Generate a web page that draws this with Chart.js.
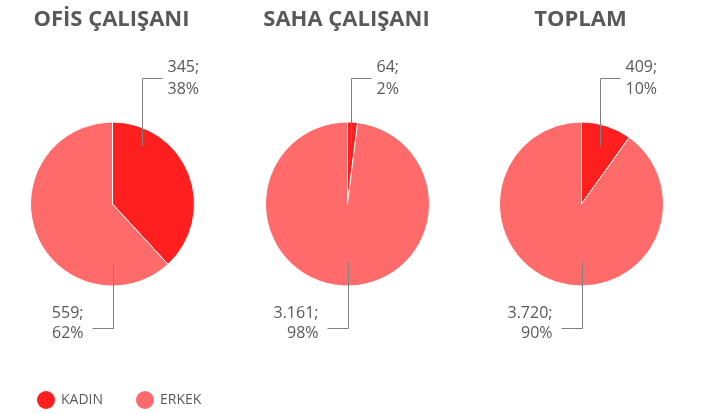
<!DOCTYPE html>
<html>
<head>
<meta charset="utf-8">
<script src="https://cdn.jsdelivr.net/npm/chart.js@4/dist/chart.umd.min.js"></script>
<style>
    html, body { margin: 0; padding: 0; background: #fff; }
    body { width: 707px; height: 414px; position: relative; overflow: hidden; }
    canvas { position: absolute; top: 0; }
</style>
</head>
<body>
<canvas id="c0" width="235" height="414" style="left:0px"></canvas>
<canvas id="c1" width="235" height="414" style="left:235px"></canvas>
<canvas id="c2" width="235" height="414" style="left:469px"></canvas>
<script>
const groups = ['OFİS ÇALIŞANI', 'SAHA ÇALIŞANI', 'TOPLAM'];
const categories = ['KADIN', 'ERKEK'];
const kadin = [345, 64, 409];
const erkek = [559, 3161, 3720];
const colors = ['#ff1f1f', '#ff6b6b'];

const textColor = '#595959';
const lineColor = '#808080';

function fmt(v) {
    return String(v).replace(/\B(?=(\d{3})+(?!\d))/g, '.');
}

// titles, callout labels and (on the first chart) the legend
const decor = {
    id: 'decor',
    afterDraw(chart, args, opts) {
        const ctx = chart.ctx;
        const meta = chart.getDatasetMeta(0);
        const data = chart.data.datasets[0].data;
        const total = data.reduce((a, b) => a + b, 0);
        const a0 = meta.data[0];
        const cx = a0.x, cy = a0.y, r = a0.outerRadius;

        ctx.save();
        // title
        ctx.fillStyle = textColor;
        ctx.font = 'bold 22px "Open Sans"';
        ctx.textAlign = 'center';
        ctx.textBaseline = 'middle';
        ctx.fillText(opts.title, cx - 1, 20);

        ctx.strokeStyle = lineColor;
        ctx.lineWidth = 1;
        ctx.font = '16px "Open Sans"';

        // first slice: label above, to the right
        const mid = (a0.startAngle + a0.endAngle) / 2 + Math.PI / 2;
        const lx = Math.round(cx + r * 0.72 * Math.sin(Math.min(mid, 0.53))) + 0.5;
        const ty = Math.round(cy - r * 1.54) + 0.5;
        ctx.beginPath();
        ctx.moveTo(lx, cy - r * 0.71);
        ctx.lineTo(lx, ty);
        ctx.lineTo(lx + 20, ty);
        ctx.stroke();
        ctx.textAlign = 'left';
        ctx.fillText(fmt(data[0]) + ';', lx + 25, ty - 11);
        ctx.fillText(Math.round(data[0] / total * 100) + '%', lx + 25, ty + 11);

        // second slice: label below, to the left
        const bx = Math.round(cx) + 0.5;
        const by = Math.round(cy + r * 1.51) + 0.5;
        ctx.beginPath();
        ctx.moveTo(bx, cy + r * 0.71);
        ctx.lineTo(bx, by);
        ctx.lineTo(bx - 21, by);
        ctx.stroke();
        ctx.textAlign = 'right';
        ctx.fillText(fmt(data[1]) + ';', bx - 30, by - 15);
        ctx.fillText(Math.round(data[1] / total * 100) + '%', bx - 30, by + 5);

        if (opts.legend) {
            ctx.font = '14px "Open Sans"';
            ctx.textAlign = 'left';
            chart.data.labels.forEach((lab, i) => {
                const x = 46 + i * 99;
                ctx.fillStyle = colors[i];
                ctx.beginPath();
                ctx.arc(x, 400, 9, 0, Math.PI * 2);
                ctx.fill();
                ctx.fillStyle = textColor;
                ctx.fillText(lab, x + 15, 400);
            });
        }
        ctx.restore();
    }
};

groups.forEach((g, i) => {
    new Chart(document.getElementById('c' + i).getContext('2d'), {
        type: 'pie',
        data: {
            labels: categories,
            datasets: [{
                data: [kadin[i], erkek[i]],
                backgroundColor: colors,
                borderColor: '#ffffff',
                borderWidth: 1
            }]
        },
        options: {
            responsive: false,
            animation: false,
            layout: {
                padding: { left: 30, right: 40, top: 121, bottom: 127 }
            },
            plugins: {
                legend: { display: false },
                tooltip: { enabled: false },
                decor: { title: g, legend: i === 0 }
            }
        },
        plugins: [decor]
    });
});
</script>
</body>
</html>
